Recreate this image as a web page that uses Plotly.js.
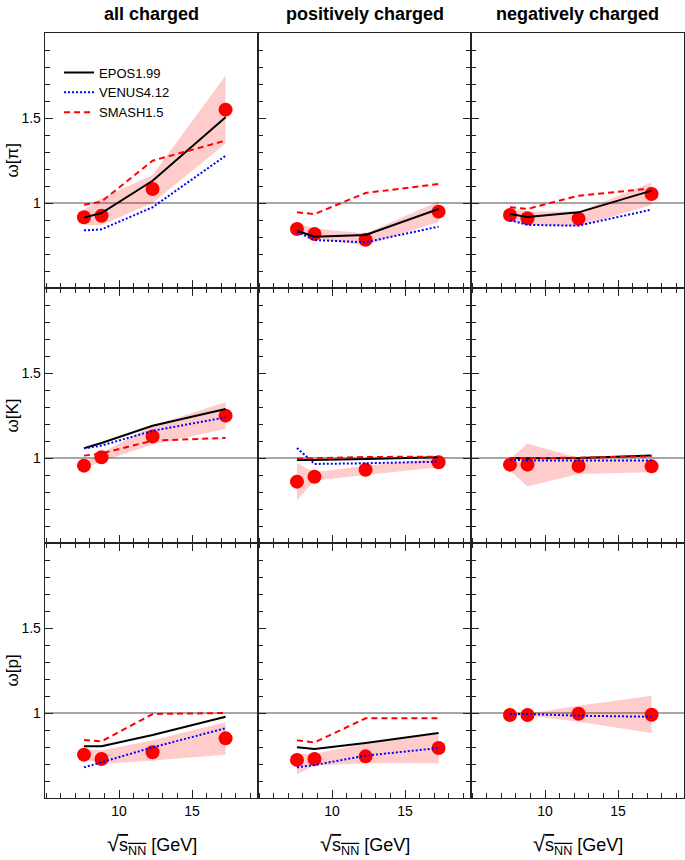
<!DOCTYPE html>
<html>
<head>
<meta charset="utf-8">
<script src="https://cdn.plot.ly/plotly-3.0.1.min.js"></script>
<style>html,body{margin:0;padding:0;background:#fff;}#chart{width:685px;height:860px;}</style>
</head>
<body>
<div id="chart"></div>
<script>
// ---- data ----
const energy = [7.6, 8.8, 12.3, 17.3];
const columnTitles = ["all charged", "positively charged", "negatively charged"];
const rowTitles = ["ω[π]", "ω[K]", "ω[p]"];
const modelNames = ["EPOS1.99", "VENUS4.12", "SMASH1.5"];
const xTickVals = [10, 15];
const yTickVals = [1, 1.5];
const yTickText = ["1", "1.5"];

// pions
const piAllData  = [0.916, 0.925, 1.082, 1.549];
const piAllLo    = [0.87, 0.87, 1.00, 1.35];
const piAllHi    = [0.96, 1.03, 1.165, 1.75];
const piAllEpos  = [0.914, 0.941, 1.131, 1.504];
const piAllVenus = [0.839, 0.845, 0.975, 1.278];
const piAllSmash = [0.99, 1.008, 1.249, 1.367];

const piPosData  = [0.847, 0.818, 0.784, 0.949];
const piPosLo    = [0.82, 0.79, 0.75, 0.89];
const piPosHi    = [0.88, 0.85, 0.82, 1.01];
const piPosEpos  = [0.837, 0.802, 0.812, 0.965];
const piPosVenus = [0.831, 0.782, 0.769, 0.861];
const piPosSmash = [0.945, 0.935, 1.059, 1.112];

const piNegData  = [0.929, 0.91, 0.908, 1.053];
const piNegLo    = [0.89, 0.87, 0.86, 0.99];
const piNegHi    = [0.97, 0.95, 0.95, 1.12];
const piNegEpos  = [0.935, 0.918, 0.945, 1.073];
const piNegVenus = [0.9, 0.871, 0.867, 0.961];
const piNegSmash = [0.975, 0.965, 1.043, 1.086];

// kaons
const kAllData  = [0.955, 1.004, 1.127, 1.249];
const kAllLo    = [0.94, 0.98, 1.08, 1.17];
const kAllHi    = [0.97, 1.03, 1.19, 1.33];
const kAllEpos  = [1.057, 1.088, 1.19, 1.288];
const kAllVenus = [1.057, 1.073, 1.16, 1.239];
const kAllSmash = [1.014, 1.027, 1.102, 1.118];

const kPosData  = [0.861, 0.89, 0.931, 0.975];
const kPosLo    = [0.75, 0.867, 0.90, 0.945];
const kPosHi    = [0.97, 0.916, 0.955, 1.0];
const kPosEpos  = [0.988, 0.988, 0.994, 1.004];
const kPosVenus = [1.059, 0.965, 0.969, 0.978];
const kPosSmash = [0.996, 0.998, 1.006, 1.008];

const kNegData  = [0.961, 0.961, 0.953, 0.951];
const kNegLo    = [0.925, 0.833, 0.906, 0.916];
const kNegHi    = [0.994, 1.086, 1.0, 0.99];
const kNegEpos  = [1.0, 0.998, 1.0, 1.014];
const kNegVenus = [0.99, 0.986, 0.986, 0.986];
const kNegSmash = [0.998, 0.998, 1.002, 1.01];

// protons
const pAllData  = [0.755, 0.729, 0.769, 0.851];
const pAllLo    = [0.73, 0.70, 0.72, 0.755];
const pAllHi    = [0.79, 0.78, 0.84, 0.945];
const pAllEpos  = [0.804, 0.804, 0.871, 0.978];
const pAllVenus = [0.68, 0.71, 0.798, 0.91];
const pAllSmash = [0.841, 0.833, 0.994, 1.0];

const pPosData  = [0.724, 0.729, 0.745, 0.794];
const pPosLo    = [0.64, 0.69, 0.705, 0.704];
const pPosHi    = [0.76, 0.76, 0.82, 0.876];
const pPosEpos  = [0.798, 0.788, 0.824, 0.882];
const pPosVenus = [0.68, 0.694, 0.749, 0.794];
const pPosSmash = [0.839, 0.827, 0.969, 0.969];

const pNegData  = [0.988, 0.988, 0.996, 0.99];
const pNegLo    = [0.985, 0.985, 0.949, 0.882];
const pNegHi    = [0.995, 0.995, 1.043, 1.102];
const pNegVenus = [0.994, 0.994, 0.984, 0.978];

// ---- build ----
const panels = [
  {data: piAllData, lo: piAllLo, hi: piAllHi, epos: piAllEpos, venus: piAllVenus, smash: piAllSmash},
  {data: piPosData, lo: piPosLo, hi: piPosHi, epos: piPosEpos, venus: piPosVenus, smash: piPosSmash},
  {data: piNegData, lo: piNegLo, hi: piNegHi, epos: piNegEpos, venus: piNegVenus, smash: piNegSmash},
  {data: kAllData, lo: kAllLo, hi: kAllHi, epos: kAllEpos, venus: kAllVenus, smash: kAllSmash},
  {data: kPosData, lo: kPosLo, hi: kPosHi, epos: kPosEpos, venus: kPosVenus, smash: kPosSmash},
  {data: kNegData, lo: kNegLo, hi: kNegHi, epos: kNegEpos, venus: kNegVenus, smash: kNegSmash},
  {data: pAllData, lo: pAllLo, hi: pAllHi, epos: pAllEpos, venus: pAllVenus, smash: pAllSmash},
  {data: pPosData, lo: pPosLo, hi: pPosHi, epos: pPosEpos, venus: pPosVenus, smash: pPosSmash},
  {data: pNegData, lo: pNegLo, hi: pNegHi, epos: null, venus: pNegVenus, smash: null}
];

const FONT = '"Liberation Sans", Arial, sans-serif';
const AX = '#222';
const traces = [];
const layout = {
  width: 685, height: 860,
  margin: {l: 45, r: 1, t: 33, b: 62},
  paper_bgcolor: '#fff', plot_bgcolor: '#fff',
  font: {family: FONT, size: 14, color: '#000'},
  showlegend: true,
  legend: {x: 0.022, y: 0.968, xanchor: 'left', yanchor: 'top', bgcolor: 'rgba(0,0,0,0)',
           font: {family: FONT, size: 13, color: '#000'}, tracegroupgap: 0, itemwidth: 30},
  shapes: [], annotations: []
};

panels.forEach((p, i) => {
  const row = Math.floor(i / 3), col = i % 3;
  const n = i + 1;
  const xs = n === 1 ? 'x' : 'x' + n;
  const ys = n === 1 ? 'y' : 'y' + n;
  const xk = n === 1 ? 'xaxis' : 'xaxis' + n;
  const yk = n === 1 ? 'yaxis' : 'yaxis' + n;
  layout[xk] = {
    domain: [col / 3, (col + 1) / 3], anchor: ys, range: [4.93, 19.52],
    showgrid: false, zeroline: false, showline: true, linecolor: AX, linewidth: 1.3,
    mirror: row === 0 ? true : 'ticks',
    ticks: 'inside', ticklen: 8, tickwidth: 1, tickcolor: AX,
    tickmode: 'array', tickvals: xTickVals, showticklabels: row === 2,
    tickfont: {family: FONT, size: 14, color: '#000'},
    minor: {tickmode: 'linear', tick0: 0, dtick: 1, ticks: 'inside', ticklen: 5, tickwidth: 1, tickcolor: AX, showgrid: false},
    fixedrange: true
  };
  layout[yk] = {
    domain: [(2 - row) / 3, (3 - row) / 3], anchor: xs, range: [0.5, 2.0],
    showgrid: false, zeroline: false, showline: true, linecolor: AX, linewidth: 1.3,
    mirror: col === 1 ? 'ticks' : true,
    ticks: 'inside', ticklen: 8, tickwidth: 1, tickcolor: AX,
    tickmode: 'array', tickvals: yTickVals, ticktext: yTickText, showticklabels: col === 0,
    tickfont: {family: FONT, size: 14, color: '#000'},
    minor: {tickmode: 'linear', tick0: 0, dtick: 0.1, ticks: 'inside', ticklen: 5, tickwidth: 1, tickcolor: AX, showgrid: false},
    fixedrange: true
  };
  // reference line at 1
  layout.shapes.push({type: 'line', xref: xs + ' domain', x0: 0, x1: 1, yref: ys, y0: 1, y1: 1,
                      line: {color: '#888', width: 1.3}, layer: 'below'});
  // band
  traces.push({
    x: energy.concat(energy.slice().reverse()),
    y: p.hi.concat(p.lo.slice().reverse()),
    xaxis: xs, yaxis: ys, type: 'scatter', mode: 'lines', fill: 'toself',
    fillcolor: 'rgba(255,0,0,0.2)', line: {width: 0, color: 'rgba(0,0,0,0)'},
    showlegend: false, hoverinfo: 'skip'
  });
  // data points
  traces.push({
    x: energy, y: p.data, xaxis: xs, yaxis: ys, type: 'scatter', mode: 'markers',
    marker: {color: '#ff0000', size: 14, line: {width: 0}}, showlegend: false
  });
  const models = [
    {v: p.epos, name: modelNames[0], line: {color: '#000', width: 2}},
    {v: p.venus, name: modelNames[1], line: {color: '#0000ff', width: 2, dash: '2px,2px'}},
    {v: p.smash, name: modelNames[2], line: {color: '#ff0000', width: 2, dash: '6px,4px'}}
  ];
  models.forEach(m => {
    if (!m.v) return;
    traces.push({x: energy, y: m.v, xaxis: xs, yaxis: ys, type: 'scatter', mode: 'lines',
                 name: m.name, line: m.line, showlegend: i === 0});
  });
});

// column titles
columnTitles.forEach((t, c) => {
  layout.annotations.push({text: '<b>' + t + '</b>', xref: 'paper', yref: 'paper',
    x: (c + 0.5) / 3, y: 1 + 19 / 765, xanchor: 'center', yanchor: 'middle', showarrow: false,
    font: {family: FONT, size: 18, color: '#000'}});
});
// row titles
rowTitles.forEach((t, r) => {
  layout.annotations.push({text: t, xref: 'paper', yref: 'paper', textangle: -90,
    x: (12 - 45) / 639, y: (2.5 - r) / 3, xanchor: 'center', yanchor: 'middle', showarrow: false,
    font: {family: FONT, size: 17, color: '#000'}});
});
// x titles
for (let c = 0; c < 3; c++) {
  layout.annotations.push({text: '<span style="font-size:22px">√</span><span style="text-decoration:overline">s<sub>NN</sub></span> [GeV]',
    xref: 'paper', yref: 'paper', x: (c + 0.5) / 3, y: -46 / 765, xanchor: 'center', yanchor: 'middle',
    showarrow: false, font: {family: FONT, size: 18, color: '#000'}});
}

Plotly.newPlot('chart', traces, layout, {displayModeBar: false, staticPlot: true});
</script>
</body>
</html>
